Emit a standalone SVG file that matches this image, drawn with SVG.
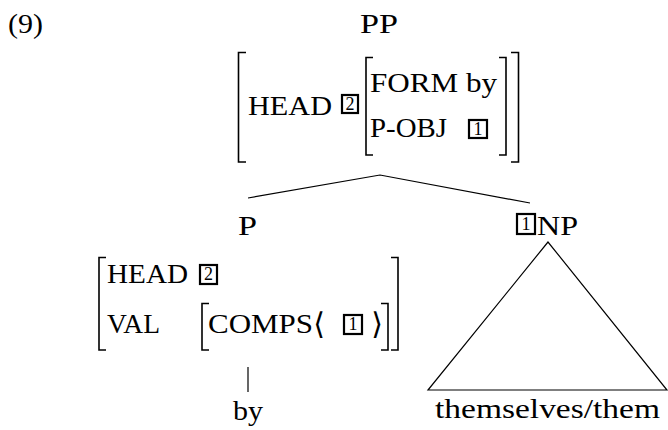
<svg xmlns="http://www.w3.org/2000/svg" width="668" height="430" viewBox="0 0 668 430">
<style>
text{font-family:"Liberation Serif","DejaVu Serif",serif;font-size:28px;font-weight:normal;fill:#000}
.n{font-size:18px;text-anchor:middle}
.ang{font-family:"DejaVu Sans","Liberation Serif",sans-serif;font-size:30px;font-weight:normal;text-anchor:middle}
.box{fill:none;stroke:#000;stroke-width:2.2}
.br{fill:none;stroke:#000;stroke-width:1.6}
.edge{fill:none;stroke:#000;stroke-width:1.2}
</style>
<rect width="668" height="430" fill="#fff"/>
<g id="label9"><text x="8" y="33" textLength="35" lengthAdjust="spacingAndGlyphs">(9)</text></g>
<g id="PP">
<text x="360" y="33" textLength="38" lengthAdjust="spacingAndGlyphs">PP</text>
<path class="br" d="M246,52.5H238.5V162H246"/>
<path class="br" d="M373,57.5H366V155H373"/>
<path class="br" d="M499,57.5H506V155H499"/>
<path class="br" d="M511,52.5H518.5V162H511"/>
<text x="248" y="115" textLength="84" lengthAdjust="spacingAndGlyphs">HEAD</text>
<rect class="box" x="342" y="95" width="16" height="18"/>
<text class="n" x="350" y="110">2</text>
<text x="370" y="92" textLength="127" lengthAdjust="spacingAndGlyphs">FORM by</text>
<text x="370" y="137" textLength="77" lengthAdjust="spacingAndGlyphs">P-OBJ</text>
<rect class="box" x="469" y="120" width="18" height="18"/>
<text class="n" x="478" y="135">1</text>
</g>
<g id="P">
<text x="238" y="235" textLength="19" lengthAdjust="spacingAndGlyphs">P</text>
<path class="br" d="M106,257.5H99V350H106"/>
<path class="br" d="M209,303.5H202V350H209"/>
<path class="br" d="M381,303.5H388V350H381"/>
<path class="br" d="M391,257.5H398V350H391"/>
<text x="107" y="283" textLength="81" lengthAdjust="spacingAndGlyphs">HEAD</text>
<rect class="box" x="200" y="265" width="17" height="19"/>
<text class="n" x="208.5" y="280">2</text>
<text x="107" y="333" textLength="53" lengthAdjust="spacingAndGlyphs">VAL</text>
<text x="208" y="333" textLength="105" lengthAdjust="spacingAndGlyphs">COMPS</text>
<text class="ang" x="319" y="334">⟨</text>
<rect class="box" x="344" y="315" width="18" height="19"/>
<text class="n" x="353" y="330">1</text>
<text class="ang" x="377" y="334">⟩</text>
</g>
<g id="by"><text x="233" y="420" textLength="30" lengthAdjust="spacingAndGlyphs">by</text></g>
<g id="NP">
<rect class="box" x="517" y="214" width="18" height="20"/>
<text class="n" x="526" y="230">1</text>
<text x="537" y="235" textLength="41" lengthAdjust="spacingAndGlyphs">NP</text>
</g>
<g id="themselves"><text x="435" y="418" textLength="225" lengthAdjust="spacingAndGlyphs">themselves/them</text></g>
<g id="connectors">
<path class="edge" d="M248,198L380,175L530,203"/>
<path class="edge" d="M248,367V392"/>
<path class="edge" d="M548,242L428,390H667Z"/>
</g>
</svg>
